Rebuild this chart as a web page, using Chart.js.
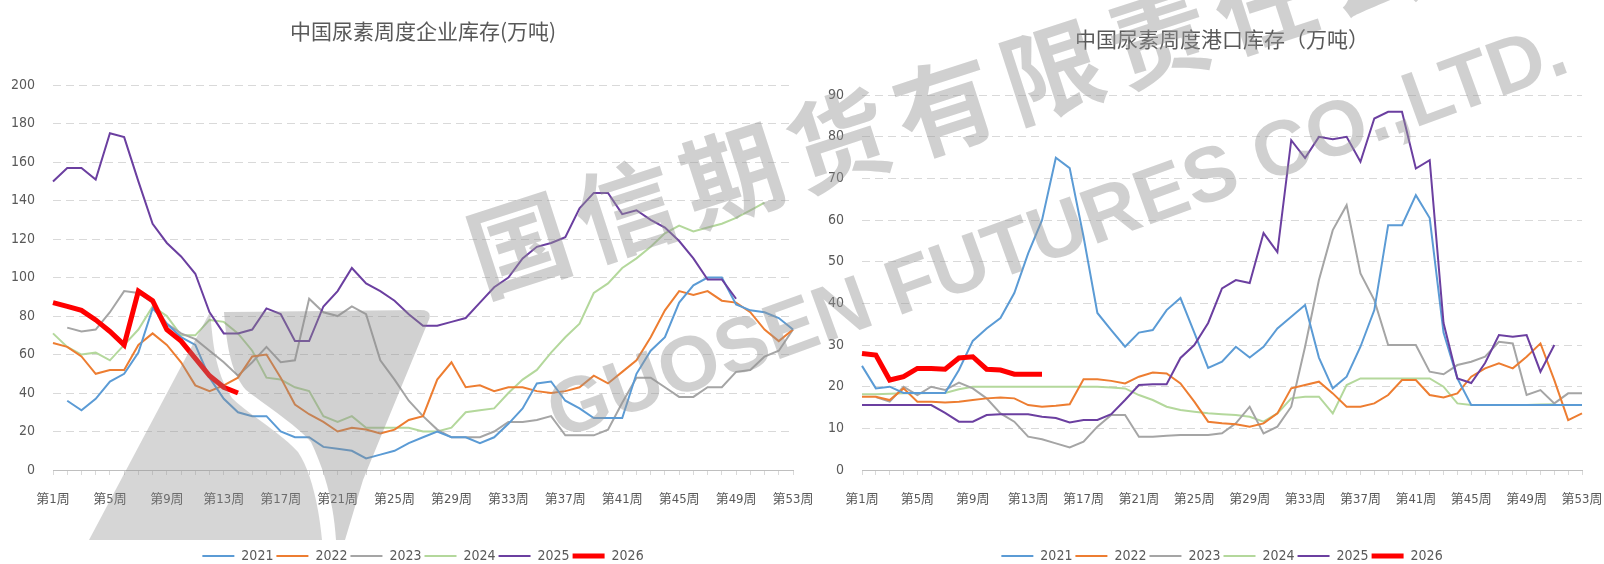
<!DOCTYPE html>
<html>
<head>
<meta charset="utf-8">
<script src="https://cdn.jsdelivr.net/npm/chart.js@4.4.0/dist/chart.umd.min.js"></script>
<style>
  body { margin: 0; background: #fff; width: 1604px; height: 564px; overflow: hidden; position: relative; }
  #leftBox { position: absolute; left: 0; top: 0; width: 815px; height: 564px; }
  #rightBox { position: absolute; left: 800px; top: 0; width: 804px; height: 564px; }
  #logo { position: absolute; left: 0; top: 0; pointer-events: none; }
  .wm { position: absolute; white-space: nowrap; line-height: 1; transform-origin: 0 50%;
        color: rgba(150,150,150,0.45); font-weight: bold; pointer-events: none; }
</style>
</head>
<body>
<div id="leftBox"><canvas id="entChart" width="815" height="564"></canvas></div>
<div id="rightBox"><canvas id="portChart" width="804" height="564"></canvas></div>
<!-- watermark -->
<svg id="logo" width="800" height="564">
  <path d="M89 540 L210 312 C213 340 214 370 232 398 C248 414 280 432 298 452 C310 470 318 500 322 540 Z" fill="rgba(140,140,140,0.36)"/>
  <path d="M224 312 L420 310 Q434 310 428 322 L363 480 L345 540 L336 540 C334 510 328 478 311 442 C296 425 265 405 246 390 C232 374 227 350 224 312 Z" fill="rgba(140,140,140,0.4)"/>
</svg>
<div class="wm" style="left:470px;top:205px;font-size:100px;letter-spacing:12px;font-family:'Noto Sans CJK SC';transform:rotate(-18deg);">国信期货有限责任公司</div>
<div class="wm" style="left:550px;top:375px;font-size:78px;font-family:'Liberation Sans';transform:rotate(-20deg);">GUOSEN FUTURES CO.,LTD.</div>

<script>
// week labels 第1周 .. 第53周
const weeks = [];
for (let i = 1; i <= 53; i++) weeks.push("第" + i + "周");

const years = ["2021", "2022", "2023", "2024", "2025", "2026"];
const colors = ["#5b9bd5", "#ed7d31", "#a5a5a5", "#b4d89c", "#6b3fa0", "#ff0000"];

// 企业库存 (万吨)
const ent2021 = [null, 36, 31, 37, 46, 50, 61, 84, 76, 69, 65, 48, 37, 30, 28, 28, 20, 17, 17, 12,
  11, 10, 6, 8, 10, 14, 17, 20, 17, 17, 14, 17, 24, 32, 45, 46, 36, 32, 27, 27,
  27, 50, 62, 69, 87, 96, 100, 100, 86, 83, 82, 79, 73];
const ent2022 = [66, 64, 59, 50, 52, 52, 65, 71, 65, 56, 44, 41, 44, 48, 59, 60, 48, 34, 29, 25,
  20, 22, 21, 19, 21, 26, 28, 47, 56, 43, 44, 41, 43, 43, 41, 40, 41, 43, 49, 45,
  51, 57, 69, 83, 93, 91, 93, 88, 87, 82, 73, 67, 73];
const ent2023 = [null, 74, 72, 73, 82, 93, 92, 87, 76, 71, 68, 62, 56, 49, 56, 64, 56, 57, 89, 82,
  80, 85, 81, 57, 47, 36, 28, 21, 17, 17, 17, 20, 25, 25, 26, 28, 18, 18, 18, 21,
  35, 48, 48, 43, 38, 38, 43, 43, 51, 52, 59, 62, 73];
const ent2024 = [71, 64, 60, 61, 57, 65, 73, 85, 80, 70, 70, 78, 77, 71, 62, 48, 47, 43, 41, 28,
  25, 28, 22, 22, 22, 22, 20, 20, 22, 30, 31, 32, 40, 47, 52, 61, 69, 76, 92, 97,
  105, 110, 116, 123, 127, 124, 126, 128, 131, 135, 139, null, null];
const ent2025 = [150, 157, 157, 151, 175, 173, 150, 128, 118, 111, 102, 82, 71, 71, 73, 84, 81, 67, 67, 85,
  93, 105, 97, 93, 88, 81, 75, 75, 77, 79, 87, 95, 100, 110, 116, 118, 121, 136, 144, 144,
  133, 135, 130, 126, 119, 110, 99, 99, 89];
const ent2026 = [87, 85, 83, 78, 72, 65, 93, 88, 73, 67, 58, 49, 43, 40];

// 港口库存 (万吨)
const port2021 = [25, 19.6, 20, 18.5, 18.5, 18.5, 18.5, 24, 31, 34, 36.5, 42.5, 52, 60, 75, 72.5, 56, 37.7, 33.6, 29.6,
  33, 33.6, 38.4, 41.3, 33, 24.5, 26, 29.6, 27, 29.6, 34, 36.8, 39.6, 27, 19.6, 22.4, 29.6, 38.4, 58.8, 58.8,
  66, 60.5, 33, 22, 15.6, 15.6, 15.6, 15.6, 15.6, 15.6, 15.6, 15.6, 15.6];
const port2022 = [17.6, 17.6, 16.8, 19.6, 16.4, 16.4, 16.2, 16.4, 16.8, 17.2, 17.4, 17.2, 15.6, 15.2, 15.4, 15.8, 21.8, 21.8, 21.4, 20.8,
  22.4, 23.4, 23.2, 20.8, 16.4, 11.6, 11.2, 11, 10.4, 11.2, 13.6, 19.6, 20.4, 21.2, 18.4, 15.2, 15.2, 16, 18, 21.6,
  21.6, 18, 17.4, 18.4, 22.4, 24.4, 25.6, 24.4, 27.2, 30.4, 21.6, 12, 13.6];
const port2023 = [null, 17.5, 16.4, 20, 18, 20, 19.2, 21, 19.6, 17.2, 13.6, 11.6, 8, 7.4, 6.4, 5.4, 6.8, 10.4, 13.2, 13.2,
  8, 8, 8.2, 8.4, 8.4, 8.4, 8.8, 11.2, 15.2, 8.8, 10.4, 15.2, 29.6, 45.6, 57.6, 63.6, 47.2, 40.8, 30, 30,
  30, 23.6, 23, 25.2, 26, 27.2, 30.8, 30.4, 18, 19.2, 16, 18.4, 18.4];
const port2024 = [18.2, 18.2, 18.3, 18.4, 18.4, 18.5, 18.5, 19.4, 20, 20, 20, 20, 20, 20, 20, 20, 20, 20, 19.8, 19.6,
  18, 16.8, 15.2, 14.4, 14, 13.6, 13.4, 13.2, 12.8, 11.6, 13.6, 17.2, 17.6, 17.6, 13.6, 20.4, 22, 22, 22, 22,
  22, 22, 20, 16, 15.6, 15.6, 15.6, 15.6, 15.6, 15.7, 15.8, null, null];
const port2025 = [15.6, 15.6, 15.6, 15.6, 15.6, 15.6, 13.7, 11.6, 11.6, 13.2, 13.4, 13.4, 13.4, 12.8, 12.5, 11.4, 12, 12, 13.4, 16.8,
  20.4, 20.6, 20.6, 26.9, 30, 35.3, 43.6, 45.6, 44.9, 56.9, 52.3, 79.2, 74.9, 80, 79.4, 80, 74, 84.4, 86, 86,
  72.4, 74.4, 35.3, 22, 20.9, 25.7, 32.4, 32, 32.4, 23.6, 30];
const port2026 = [28, 27.6, 21.6, 22.4, 24.4, 24.4, 24.2, 26.9, 27.2, 24.2, 24, 23, 23, 23];

const entTicks = { min: 0, max: 200, step: 20 };
const portTicks = { min: 0, max: 90, step: 10 };

const textColor = "#595959";
const tickFont = { family: "'Liberation Sans Narrow','DejaVu Sans Condensed','Noto Sans CJK SC',sans-serif", size: 13 };

function makeDatasets(series) {
  // red 2026 on top, then 2025, ... light green at the bottom
  const drawOrder = [2, 3, 4, 5, 1, 0];
  return series.map(function (vals, i) {
    return {
      label: years[i],
      data: vals,
      borderColor: colors[i],
      backgroundColor: colors[i],
      borderWidth: i === 5 ? 5 : 2,
      pointRadius: 0,
      tension: 0,
      order: drawOrder[i]
    };
  });
}

function makeOptions(title, yt, cfg) {
  return {
    responsive: false,
    animation: false,
    layout: { padding: { left: 0, right: cfg.padRight, top: 0, bottom: -9 } },
    scales: {
      x: {
        grid: { drawOnChartArea: false, drawTicks: true, tickLength: 5, color: "#d9d9d9" },
        border: { display: true, color: "#bfbfbf", width: 1 },
        ticks: {
          autoSkip: false, maxRotation: 0, minRotation: 0, padding: 17,
          color: textColor, font: tickFont,
          callback: function (val, index) { return index % 4 === 0 ? this.getLabelForValue(val) : ""; }
        },
        afterFit: function (scale) { scale.paddingLeft = 0; scale.paddingRight = 0; scale.height = 76; }
      },
      y: {
        min: yt.min, max: yt.max,
        grid: { color: "#d9d9d9", drawTicks: false, lineWidth: 1 },
        border: { display: false, dash: [8, 5] },
        ticks: { stepSize: yt.step, padding: 18, color: textColor, font: { family: tickFont.family, size: 14 } },
        afterFit: function (scale) { scale.width = cfg.yWidth; scale.paddingTop = 0; scale.paddingBottom = 0; }
      }
    },
    plugins: {
      title: {
        display: true, text: title, color: textColor, fullSize: false,
        font: { family: "'Noto Sans CJK SC',sans-serif", size: 21, weight: "normal" },
        padding: { top: cfg.titleTop, bottom: cfg.titleBottom }
      },
      legend: {
        position: "bottom",
        fullSize: false,
        labels: {
          usePointStyle: true, pointStyle: "line", pointStyleWidth: 32,
          padding: 3, color: textColor, font: { family: tickFont.family, size: 14 },
          sort: function (a, b) { return a.datasetIndex - b.datasetIndex; }
        }
      },
      tooltip: { enabled: false }
    }
  };
}

new Chart(document.getElementById("entChart").getContext("2d"), {
  type: "line",
  data: { labels: weeks, datasets: makeDatasets([ent2021, ent2022, ent2023, ent2024, ent2025, ent2026]) },
  options: makeOptions("中国尿素周度企业库存(万吨)", entTicks,
    { padRight: 22, yWidth: 53, titleTop: 18, titleBottom: 42 })
});

new Chart(document.getElementById("portChart").getContext("2d"), {
  type: "line",
  data: { labels: weeks, datasets: makeDatasets([port2021, port2022, port2023, port2024, port2025, port2026]) },
  options: makeOptions("中国尿素周度港口库存（万吨）", portTicks,
    { padRight: 22, yWidth: 62, titleTop: 26, titleBottom: 44 })
});
</script>
</body>
</html>
